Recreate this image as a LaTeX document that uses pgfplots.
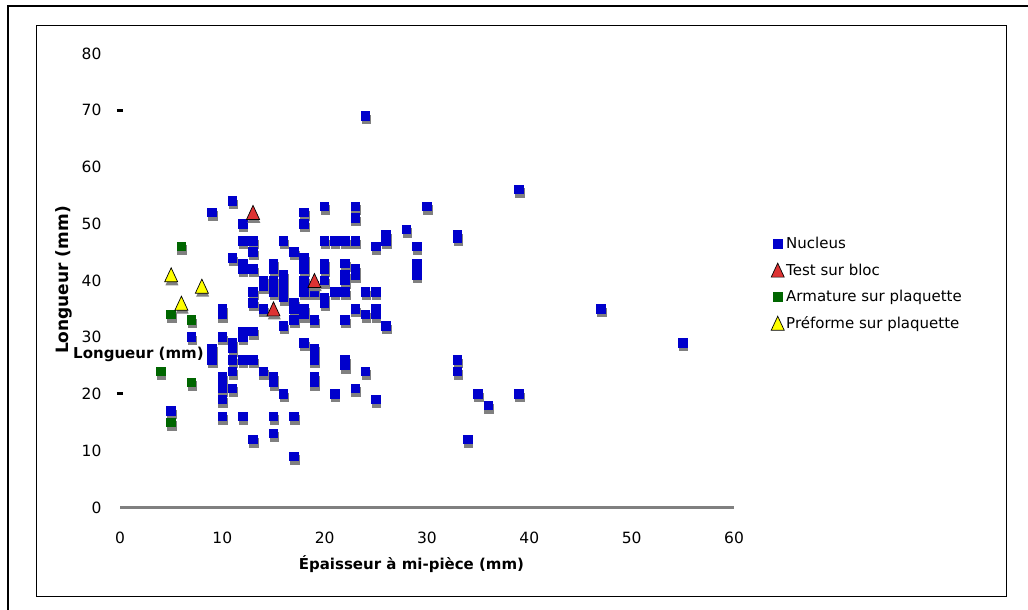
\documentclass[border=0pt]{standalone}
\usepackage{pgfplots}
\pgfplotsset{compat=1.18}
\usepackage{fontspec}
\setmainfont{DejaVu Sans}
\definecolor{nucblue}{RGB}{0,0,204}
\definecolor{armgreen}{RGB}{0,102,0}
\definecolor{testred}{RGB}{221,51,51}
\definecolor{prefyellow}{RGB}{255,255,0}
\definecolor{shad}{RGB}{128,128,128}
\newcommand{\shsq}[1]{%
  \pgfpathrectangle{\pgfqpoint{-3.95pt}{-8.25pt}}{\pgfqpoint{9.5pt}{9.5pt}}%
  \pgfsetfillcolor{shad}\pgfusepathqfill
  \pgfpathrectangle{\pgfqpoint{-4.75pt}{-4.75pt}}{\pgfqpoint{9.5pt}{9.5pt}}%
  \pgfsetfillcolor{#1}\pgfusepathqfill}
\newcommand{\shtri}[1]{%
  \pgfpathmoveto{\pgfqpoint{-5.7pt}{-10.5pt}}\pgfpathlineto{\pgfqpoint{7.3pt}{-10.5pt}}%
  \pgfpathlineto{\pgfqpoint{0.8pt}{3.5pt}}\pgfpathclose
  \pgfsetfillcolor{shad}\pgfusepathqfill
  \pgfpathmoveto{\pgfqpoint{-6.5pt}{-7pt}}\pgfpathlineto{\pgfqpoint{6.5pt}{-7pt}}%
  \pgfpathlineto{\pgfqpoint{0pt}{7pt}}\pgfpathclose
  \pgfsetfillcolor{#1}\pgfsetstrokecolor{black}\pgfsetlinewidth{0.7pt}\pgfusepathqfillstroke}
\pgfdeclareplotmark{sqblue}{\shsq{nucblue}}
\pgfdeclareplotmark{sqgreen}{\shsq{armgreen}}
\pgfdeclareplotmark{trired}{\shtri{testred}}
\pgfdeclareplotmark{triyellow}{\shtri{prefyellow}}
\pgfdeclareplotmark{tri0}{%
  \pgfpathmoveto{\pgfqpoint{-6.5pt}{-7pt}}\pgfpathlineto{\pgfqpoint{6.5pt}{-7pt}}%
  \pgfpathlineto{\pgfqpoint{0pt}{7pt}}\pgfpathclose
  \pgfusepathqfillstroke}
\begin{document}
\begin{tikzpicture}
\path[use as bounding box] (0pt,0pt) rectangle (1028pt,610pt);
\draw[line width=1.5pt] (8pt,0pt) -- (8pt,604pt) -- (1028pt,604pt);
\draw[line width=0.8pt] (36pt,14pt) rectangle (1006pt,585pt);
\begin{axis}[
  at={(120pt,102.5pt)}, anchor=south west,
  scale only axis, width=614pt, height=454pt,
  xmin=0, xmax=60, ymin=0, ymax=80,
  axis x line*=bottom, axis y line*=left,
  x axis line style={draw=shad, line width=3.2pt, -},
  y axis line style={draw=none, -},
  xtick={0,10,...,60}, ytick={0,10,...,80},
  major tick length=0pt,
  extra y ticks={20,70}, extra y tick labels={},
  extra y tick style={major tick length=6pt, tick align=center, tick style={line width=3pt, black}},
  /pgf/number format/assume math mode=true,
  ticklabel style={font=\fontsize{15.5}{18}\selectfont, inner sep=0pt},
  yticklabel style={xshift=-18.4pt},
  xticklabel style={anchor=north, yshift=-23.8pt},
  xlabel={Épaisseur à mi-pièce (mm)},
  ylabel={Longueur (mm)},
  xlabel style={at={(rel axis cs:0.4747,-0.1245)}, anchor=center, font=\bfseries\fontsize{15}{18}\selectfont},
  ylabel style={at={(rel axis cs:-0.0912,0.501)}, anchor=center, font=\bfseries\fontsize{17}{20}\selectfont},
  legend style={draw=none, fill=none, at={(rel axis cs:1.0603,0.600)}, anchor=north west,
    inner sep=0pt, row sep=9.5pt, font=\fontsize{15}{18}\selectfont},
  legend cell align=left,
  legend image code/.code={\draw[mark repeat=2,mark phase=2,#1] plot coordinates {(0pt,0pt)(5pt,0pt)(10pt,0pt)};},
  clip=false
]
\addlegendimage{only marks, mark=square*, mark size=4.2pt, color=nucblue}
\addlegendimage{only marks, mark=tri0, mark options={fill=testred, draw=black, line width=0.7pt}}
\addlegendimage{only marks, mark=square*, mark size=4.2pt, color=armgreen}
\addlegendimage{only marks, mark=tri0, mark options={fill=prefyellow, draw=black, line width=0.7pt}}

\addplot[only marks, mark=sqblue, forget plot] coordinates {
(5,17) (7,30) (9,52) (9,28) (9,27) (9,26)
(10,35) (10,34) (10,30) (10,23) (10,22) (10,21) (10,19) (10,16)
(11,54) (11,44) (11,29) (11,28) (11,26) (11,24) (11,21)
(12,50) (12,47) (12,43) (12,42) (12,31) (12,30) (12,26) (12,16)
(13,47) (13,45) (13,42) (13,38) (13,36) (13,31) (13,26) (13,12)
(14,40) (14,39) (14,35) (14,24)
(15,43) (15,42) (15,40) (15,39) (15,38) (15,23) (15,22) (15,16) (15,13)
(16,47) (16,41) (16,40) (16,39) (16,38) (16,37) (16,32) (16,20)
(17,45) (17,36) (17,35) (17,33) (17,16) (17,9)
(18,52) (18,50) (18,44) (18,43) (18,42) (18,40) (18,39) (18,38) (18,35) (18,34) (18,29)
(19,39) (19,38) (19,33) (19,28) (19,27) (19,26) (19,23) (19,22)
(20,53) (20,47) (20,43) (20,42) (20,40) (20,37) (20,36)
(21,47) (21,38) (21,20)
(22,47) (22,43) (22,41) (22,40) (22,38) (22,33) (22,26) (22,25)
(23,53) (23,51) (23,47) (23,42) (23,41) (23,35) (23,21)
(24,69) (24,38) (24,34) (24,24)
(25,46) (25,38) (25,35) (25,34) (25,19)
(26,48) (26,47) (26,32) (28,49)
(29,46) (29,43) (29,42) (29,41) (30,53)
(33,48) (33,47.5) (33,26) (33,24) (34,12) (35,20) (36,18)
(39,56) (39,20) (47,35) (55,29)
};
\addplot[only marks, mark=trired, forget plot] coordinates {(13,52) (19,40) (15,35)};
\addplot[only marks, mark=sqgreen, forget plot] coordinates {(6,46) (5,34) (7,33) (4,24) (7,22) (5,15)};
\addplot[only marks, mark=triyellow, forget plot] coordinates {(5,41) (8,39) (6,36)};
\node[anchor=west, inner sep=0pt, font=\bfseries\fontsize{15}{18}\selectfont] at (rel axis cs:-0.0765,0.338) {Longueur (mm)};
\legend{Nucleus, Test sur bloc, Armature sur plaquette, Préforme sur plaquette}
\end{axis}
\end{tikzpicture}
\end{document}
